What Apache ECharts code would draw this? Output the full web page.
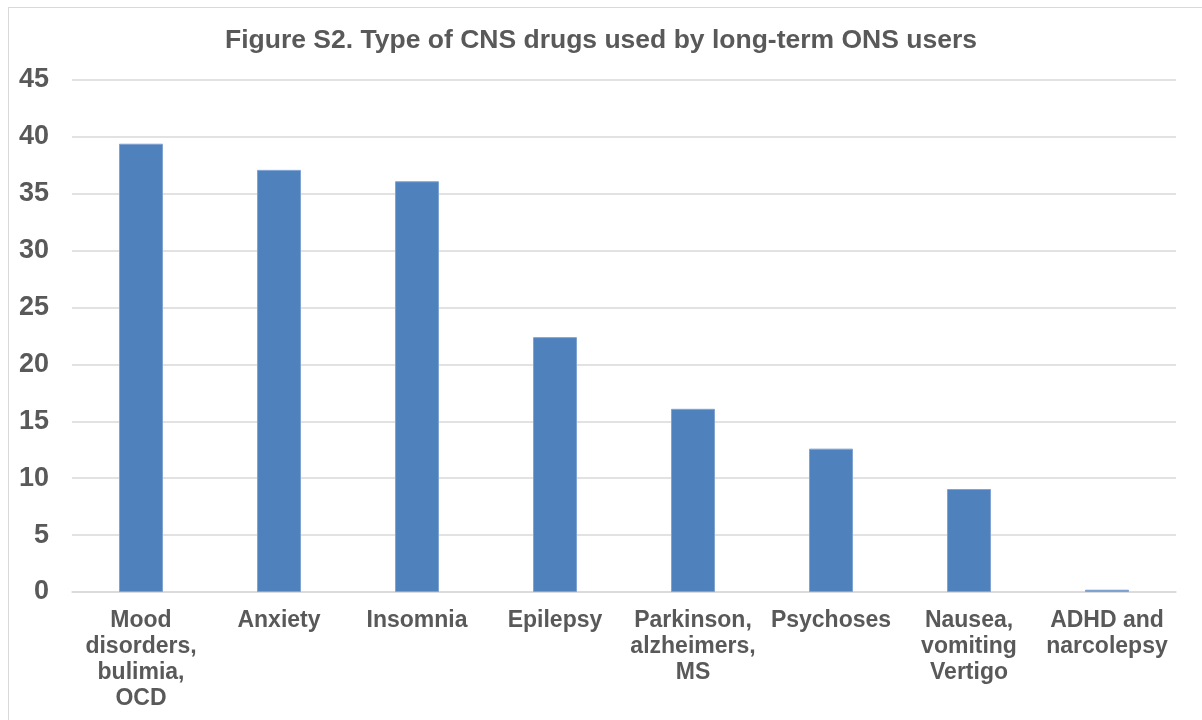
<!DOCTYPE html>
<html><head><meta charset="utf-8">
<script src="https://cdn.jsdelivr.net/npm/echarts@6/dist/echarts.min.js"></script>
<style>
html,body{margin:0;padding:0;background:#fff;}
#frame{position:absolute;left:8px;top:7px;width:1200px;height:720px;border:1px solid #d9d9d9;box-sizing:border-box;}
#c{position:absolute;left:0;top:0;width:1202px;height:720px;}
</style></head>
<body>
<div id="frame"></div>
<div id="c"></div>
<script>
const categories = ["Mood\ndisorders,\nbulimia,\nOCD","Anxiety","Insomnia","Epilepsy","Parkinson,\nalzheimers,\nMS","Psychoses","Nausea,\nvomiting\nVertigo","ADHD and\nnarcolepsy"];
const values = [39.4, 37.1, 36.1, 22.4, 16.1, 12.6, 9.05, 0.2];
const yTicks = {min:0, max:45, interval:5};
const chart = echarts.init(document.getElementById('c'));
chart.setOption({
  animation:false,
  title:{text:"Figure S2. Type of CNS drugs used by long-term ONS users",left:'center',top:22,
    textStyle:{fontFamily:'Liberation Sans',fontWeight:'bold',fontSize:26.5,color:'#595959'}},
  grid:{left:72,right:26,top:80,bottom:128,containLabel:false},
  xAxis:{type:'category',data:categories,
    axisLine:{lineStyle:{color:'#d9d9d9',width:1.5}},axisTick:{show:false},
    axisLabel:{interval:0,margin:16,fontFamily:'Liberation Sans',fontWeight:'bold',fontSize:23,color:'#595959',lineHeight:26}},
  yAxis:{type:'value',min:yTicks.min,max:yTicks.max,interval:yTicks.interval,
    axisLine:{show:false},axisTick:{show:false},
    splitLine:{lineStyle:{color:'#d9d9d9',width:1.5}},
    axisLabel:{margin:23,fontFamily:'Liberation Sans',fontWeight:'bold',fontSize:27,color:'#595959'}},
  series:[{type:'bar',data:values,barWidth:44,
    itemStyle:{color:'#4F81BD',borderColor:'#7FA3D3',borderWidth:1}}]
});
</script>
</body></html>
